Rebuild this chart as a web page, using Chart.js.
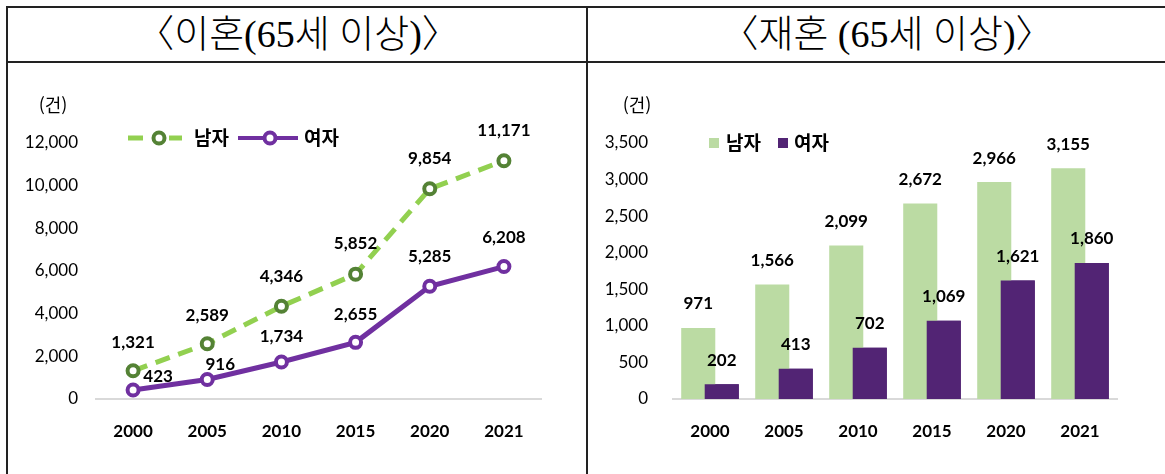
<!DOCTYPE html>
<html lang="ko">
<head>
<meta charset="utf-8">
<script src="https://cdn.jsdelivr.net/npm/chart.js@4.4.1/dist/chart.umd.min.js"></script>
<style>
    body { margin: 0; background: #fff; }
    #wrap { position: relative; width: 1165px; height: 474px; overflow: hidden; background: #fff; }
    .hline { position: absolute; left: 6px; width: 1165px; height: 2px; background: #222; }
    .vline { position: absolute; top: 6px; width: 2px; height: 480px; background: #222; }
    .title {
        position: absolute; top: 7px; height: 55px; line-height: 55px;
        font-family: 'Liberation Serif', 'Noto Sans CJK KR', serif;
        font-size: 38px; font-weight: 300; color: #000; white-space: nowrap;
        transform: translateX(-50%);
    }
    canvas { position: absolute; top: 63px; }
</style>
</head>
<body>
<div id="wrap">
    <div class="hline" style="top:6px"></div>
    <div class="hline" style="top:61px"></div>
    <div class="vline" style="left:6px"></div>
    <div class="vline" style="left:586px"></div>
    <div class="title" style="left:298px">〈이혼(65세 이상)〉</div>
    <div class="title" style="left:887px">〈재혼 (65세 이상)〉</div>
    <canvas id="divorceChart" width="579" height="411" style="left:8px"></canvas>
    <canvas id="remarriageChart" width="577" height="411" style="left:588px"></canvas>
</div>
<script>
const years = ['2000', '2005', '2010', '2015', '2020', '2021'];
const divorceMale = [1321, 2589, 4346, 5852, 9854, 11171];
const divorceFemale = [423, 916, 1734, 2655, 5285, 6208];
const remarriageMale = [971, 1566, 2099, 2672, 2966, 3155];
const remarriageFemale = [202, 413, 702, 1069, 1621, 1860];
const divorceTicks = { max: 12000, step: 2000 };
const remarriageTicks = { max: 3500, step: 500 };

const numFont = 'Lato, "Noto Sans CJK KR", sans-serif';
const korFont = '"Noto Sans CJK KR", sans-serif';
const fmt = v => Number(v).toLocaleString('en-US');

// 공통 축 설정
function makeScales(yMax, yStep, yWidth, yPad) {
    return {
        x: {
            offset: true,
            grid: { display: false, drawTicks: false },
            border: { color: '#d9d9d9', width: 2 },
            ticks: { color: '#000', padding: 22, font: { family: numFont, size: 17, weight: 'bold' } },
            afterFit: s => { s.height = 75; }
        },
        y: {
            min: 0, max: yMax,
            grid: { display: false, drawTicks: false },
            border: { display: false },
            ticks: { stepSize: yStep, color: '#000', padding: yPad, callback: v => fmt(v),
                font: { family: numFont, size: 17 } },
            afterFit: s => { s.width = yWidth; }
        }
    };
}

// 단위 표시
function unitLabel(x) {
    return {
        id: 'unit',
        afterDraw(chart) {
            const c = chart.ctx;
            c.save();
            c.fillStyle = '#000';
            c.font = '18px ' + korFont;
            c.textAlign = 'center';
            c.textBaseline = 'middle';
            c.fillText('(건)', x, 42);
            c.restore();
        }
    };
}

function marker(c, x, y, color) {
    c.beginPath();
    c.arc(x, y, 5.5, 0, Math.PI * 2);
    c.fillStyle = '#fff';
    c.fill();
    c.lineWidth = 4;
    c.strokeStyle = color;
    c.stroke();
}

// 이혼 차트 (꺾은선)
const lineLabelOffsets = {
    0: [[0, -28], [0, -28], [0, -30], [0, -31], [0, -30], [0, -30]],
    1: [[25, -13], [13, -15], [0, -25], [0, -28], [0, -30], [0, -29]]
};

const lineLegend = {
    id: 'lineLegend',
    afterDraw(chart) {
        const c = chart.ctx;
        const y = 75;
        c.save();
        c.lineCap = 'butt';
        c.lineWidth = 5;
        c.strokeStyle = '#92D050';
        c.beginPath(); c.moveTo(120, y); c.lineTo(135, y); c.stroke();
        c.beginPath(); c.moveTo(161, y); c.lineTo(174, y); c.stroke();
        marker(c, 151, y, '#548235');
        c.strokeStyle = '#7030A0';
        c.beginPath(); c.moveTo(230, y); c.lineTo(290, y); c.stroke();
        marker(c, 262, y, '#7030A0');
        c.fillStyle = '#000';
        c.font = 'bold 19px ' + korFont;
        c.textAlign = 'left';
        c.textBaseline = 'middle';
        c.fillText(chart.data.datasets[0].label, 186, y);
        c.fillText(chart.data.datasets[1].label, 296, y);
        c.restore();
    }
};

const lineValues = {
    id: 'lineValues',
    afterDatasetsDraw(chart) {
        const c = chart.ctx;
        c.save();
        c.fillStyle = '#000';
        c.font = 'bold 17px ' + numFont;
        c.textAlign = 'center';
        c.textBaseline = 'middle';
        chart.data.datasets.forEach((ds, di) => {
            chart.getDatasetMeta(di).data.forEach((pt, i) => {
                const off = lineLabelOffsets[di][i];
                c.fillText(fmt(ds.data[i]), pt.x + off[0], pt.y + off[1]);
            });
        });
        c.restore();
    }
};

new Chart(document.getElementById('divorceChart'), {
    type: 'line',
    data: {
        labels: years,
        datasets: [{
            label: '남자',
            data: divorceMale,
            borderColor: '#92D050',
            borderWidth: 5,
            borderDash: [15, 9],
            pointRadius: 5.5,
            pointBorderWidth: 4,
            pointBorderColor: '#548235',
            pointBackgroundColor: '#fff',
            tension: 0
        }, {
            label: '여자',
            data: divorceFemale,
            borderColor: '#7030A0',
            borderWidth: 5,
            pointRadius: 5.5,
            pointBorderWidth: 4,
            pointBorderColor: '#7030A0',
            pointBackgroundColor: '#fff',
            tension: 0
        }]
    },
    options: {
        responsive: false,
        animation: false,
        layout: { padding: { left: 0, top: 80, right: 46, bottom: 0 } },
        plugins: { legend: { display: false }, tooltip: { enabled: false } },
        scales: makeScales(divorceTicks.max, divorceTicks.step, 88, 18)
    },
    plugins: [lineLegend, lineValues, unitLabel(45)]
});

// 재혼 차트 (막대)
const barLegend = {
    id: 'barLegend',
    afterDraw(chart) {
        const c = chart.ctx;
        const y = 80;
        c.save();
        c.fillStyle = chart.data.datasets[0].backgroundColor;
        c.fillRect(121, y - 5, 10, 10);
        c.fillStyle = chart.data.datasets[1].backgroundColor;
        c.fillRect(190, y - 5, 10, 10);
        c.fillStyle = '#000';
        c.font = 'bold 19px ' + korFont;
        c.textAlign = 'left';
        c.textBaseline = 'middle';
        c.fillText(chart.data.datasets[0].label, 138, y);
        c.fillText(chart.data.datasets[1].label, 206, y);
        c.restore();
    }
};

const barValues = {
    id: 'barValues',
    afterDatasetsDraw(chart) {
        // 여자 막대를 남자 막대 위에 다시 그림
        chart.getDatasetMeta(1).controller.draw();
        const c = chart.ctx;
        c.save();
        c.fillStyle = '#000';
        c.font = 'bold 17px ' + numFont;
        c.textAlign = 'center';
        c.textBaseline = 'middle';
        chart.data.datasets.forEach((ds, di) => {
            chart.getDatasetMeta(di).data.forEach((bar, i) => {
                c.fillText(fmt(ds.data[i]), bar.x, bar.y - 24);
            });
        });
        c.restore();
    }
};

new Chart(document.getElementById('remarriageChart'), {
    type: 'bar',
    data: {
        labels: years,
        datasets: [{
            label: '남자',
            data: remarriageMale,
            backgroundColor: '#BBDBA3'
        }, {
            label: '여자',
            data: remarriageFemale,
            backgroundColor: '#522474'
        }]
    },
    options: {
        responsive: false,
        animation: false,
        categoryPercentage: 0.635,
        barPercentage: 1.45,
        layout: { padding: { left: 0, top: 80, right: 48, bottom: 0 } },
        plugins: { legend: { display: false }, tooltip: { enabled: false } },
        scales: makeScales(remarriageTicks.max, remarriageTicks.step, 85, 25)
    },
    plugins: [barLegend, barValues, unitLabel(49)]
});
</script>
</body>
</html>
